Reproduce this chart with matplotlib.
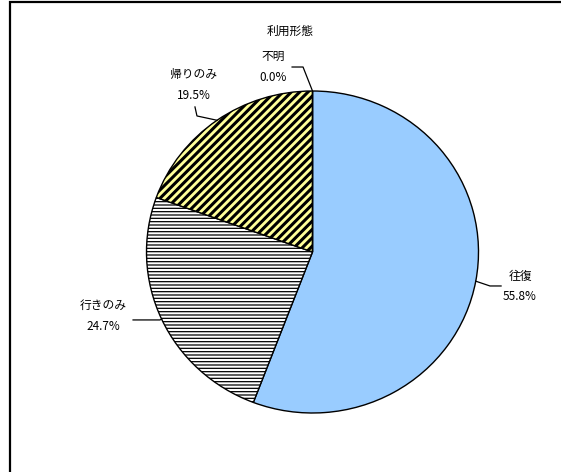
import numpy as np
import matplotlib
matplotlib.use("Agg")
import matplotlib.pyplot as plt
from matplotlib.patches import Rectangle

plt.rcParams["font.family"] = ["Noto Sans CJK JP", "DejaVu Sans"]
plt.rcParams["hatch.linewidth"] = 1.0

TITLE = "利用形態"
LABELS = ["往復", "行きのみ", "帰りのみ", "不明"]
SHARES = [55.8, 24.7, 19.5, 0.0]
COLORS = ["#99CCFF", "#FFFFFF", "#FFFF99", "#FFFFFF"]
HATCHES = [None, "-----", "////", None]
HATCH_LW = [1.0, 0.9, 2.2, 1.0]

# label anchor (text centre) and leader elbow / end, in data units
TEXT_POS = [(1.25, -0.215), (-1.262, -0.398), (-0.714, 1.037), (-0.238, 1.149)]
ELBOW = [(1.069, -0.211), (-0.919, -0.422), (-0.696, 0.845), (-0.057, 1.149)]
LEAD_END = [(1.136, -0.211), (-1.081, -0.422), (-0.708, 0.901), (-0.123, 1.149)]

W, H = 561, 472
fig = plt.figure(figsize=(W / 100, H / 100), dpi=100)
fig.patch.set_facecolor("white")

# outer frame (only top/left edges fall inside the image)
fig.patches.append(Rectangle((10 / W, -1.0), 3.0, 2.0 - 2 / H, transform=fig.transFigure,
                             fill=False, edgecolor="black", linewidth=1.6))

cx, cy, rx, ry = 312.5, 252, 166, 161
ax = fig.add_axes([(cx - rx) / W, 1 - (cy + ry) / H, 2 * rx / W, 2 * ry / H])

wedges, _ = ax.pie(SHARES, colors=COLORS, startangle=90, counterclock=False,
                   wedgeprops=dict(edgecolor="black", linewidth=1.0))
for w, h, hlw in zip(wedges, HATCHES, HATCH_LW):
    if h:
        w.set_hatch(h)
        if hasattr(w, "set_hatch_linewidth"):
            w.set_hatch_linewidth(hlw)
ax.set_aspect("auto")
ax.set_xlim(-1, 1)
ax.set_ylim(-1, 1)
ax.axis("off")

for w, lab, val, tp, el, le in zip(wedges, LABELS, SHARES, TEXT_POS, ELBOW, LEAD_END):
    mid = np.deg2rad((w.theta1 + w.theta2) / 2)
    edge = (np.cos(mid), np.sin(mid))
    ax.plot([edge[0], el[0], le[0]], [edge[1], el[1], le[1]], color="black",
            linewidth=0.9, clip_on=False)
    ax.text(tp[0], tp[1], f"{lab}\n{val:.1f}%", ha="center", va="center",
            fontsize=8.5, linespacing=1.75, clip_on=False)

fig.text(290 / W, 1 - 31 / H, TITLE, ha="center", va="center", fontsize=8.5)

fig.savefig("out.png", dpi=100, facecolor="white")
